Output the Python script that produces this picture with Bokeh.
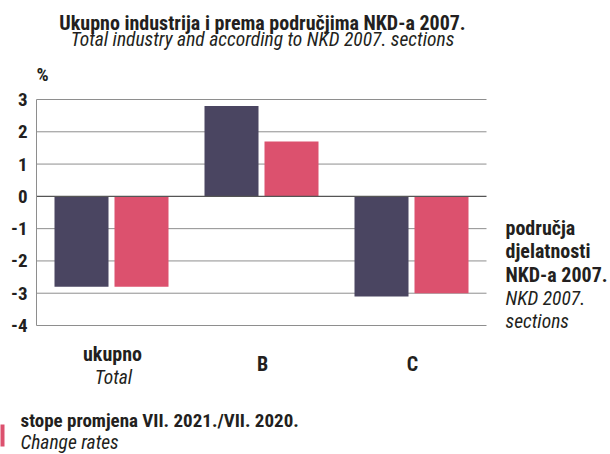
from bokeh.plotting import figure
from bokeh.models import ColumnDataSource, Range1d, Label, LinearAxis, FixedTicker, BoxAnnotation
from bokeh.embed import file_html
from bokeh.resources import INLINE

# ---- data ----
categories = ["ukupno", "B", "C"]
category_sub = ["Total", "", ""]
series_dark = [-2.8, 2.8, -3.1]
series_pink = [-2.8, 1.7, -3.0]
y_ticks = [-4, -3, -2, -1, 0, 1, 2, 3]
y_tick_labels = ["-4", "-3", "-2", "-1", "0", "1", "2", "3"]

title_hr = "Ukupno industrija i prema područjima NKD-a 2007."
title_en = "Total industry and according to NKD 2007. sections"
unit_label = "%"
axis_title = ["područja", "djelatnosti", "NKD-a 2007."]
axis_title_en = ["NKD 2007.", "sections"]
legend_hr = "stope promjena VII. 2021./VII. 2020."
legend_en = "Change rates"

DARK = "#4a4561"
PINK = "#dc516e"
GRID = "#8e8e8e"
ZERO = "#555555"
TXT = "#231f20"
FONT = "Roboto Condensed"

W, H = 610, 454
# plot area in page pixels: x 36..486 <-> categories 0..3, y 99..325 <-> 3..-4
PX_X = 150.0
PX_Y = 226 / 7.0
SHIFT = 6  # renderer places alphabetic baselines slightly low


def X(px):
    return (px - 36) / PX_X


def Y(py):
    return 3 - (py - 99) / PX_Y


p = figure(width=W, height=H, output_backend="svg", toolbar_location=None,
           x_range=Range1d(X(0), X(W)), y_range=Range1d(Y(H), Y(0)),
           x_axis_location=None, y_axis_location=None, min_border=0)
p.outline_line_color = None
p.xgrid.visible = False
p.ygrid.visible = False

n = len(categories)
xc = [i + 0.5 for i in range(n)]
src = ColumnDataSource(dict(
    cat=categories,
    xa=[x - 0.2 for x in xc], xb=[x + 0.2 for x in xc],
    a=series_dark, b=series_pink))

grid_ticks = [t for t in y_ticks if t != 0]
p.segment(x0=[0] * len(grid_ticks), x1=[n] * len(grid_ticks), y0=grid_ticks, y1=grid_ticks,
          line_color=GRID, line_width=1)

p.vbar(x="xa", top="a", bottom=0, width=0.36, source=src, fill_color=DARK, line_color=None)
p.vbar(x="xb", top="b", bottom=0, width=0.36, source=src, fill_color=PINK, line_color=None)

p.segment(x0=[0], x1=[n], y0=[0], y1=[0], line_color=ZERO, line_width=1.2)

yaxis = LinearAxis(fixed_location=0, ticker=FixedTicker(ticks=y_ticks), bounds=(y_ticks[0], y_ticks[-1]))
yaxis.major_label_overrides = dict(zip(y_ticks, y_tick_labels))
yaxis.major_tick_out = 0
yaxis.major_tick_in = 0
yaxis.minor_tick_out = 0
yaxis.minor_tick_in = 0
yaxis.axis_line_color = GRID
yaxis.major_label_standoff = 9
yaxis.major_label_text_font = FONT
yaxis.major_label_text_font_size = "19px"
yaxis.major_label_text_font_style = "bold"
yaxis.major_label_text_color = TXT
p.add_layout(yaxis, "left")


def lab(x, y, text, size="20px", style="bold", align="left"):
    p.add_layout(Label(x=X(x), y=Y(y - SHIFT), text=text, text_font=FONT, text_font_size=size,
                       text_font_style=style, text_align=align, text_baseline="alphabetic",
                       text_color=TXT))


lab(262, 28, title_hr, "20px", "bold", "center")
lab(262, 45, title_en, "19.5px", "italic", "center")
lab(36, 80, unit_label, "19px", "bold", "left")

for i, c in enumerate(categories):
    cx = 36 + xc[i] * PX_X
    if category_sub[i]:
        lab(cx + 1, 359, c, "20px", "bold", "center")
        lab(cx + 2, 383, category_sub[i], "19.5px", "italic", "center")
    else:
        lab(cx + 1, 369, c, "20px", "bold", "center")

for t, yy in zip(axis_title, [233, 256.5, 280]):
    lab(505, yy, t, "20px", "bold", "left")
for t, yy in zip(axis_title_en, [304, 327]):
    lab(505, yy, t, "19.5px", "italic", "left")

# legend key (only its right edge is inside the page)
p.add_layout(BoxAnnotation(left=X(-12), right=X(4), bottom=Y(446), top=Y(424),
                           fill_color=PINK, fill_alpha=1, line_color=None))
lab(20, 426, legend_hr, "19px", "bold", "left")
lab(20, 448, legend_en, "19.5px", "italic", "left")

open("out.html", "w").write(file_html(p, INLINE))
